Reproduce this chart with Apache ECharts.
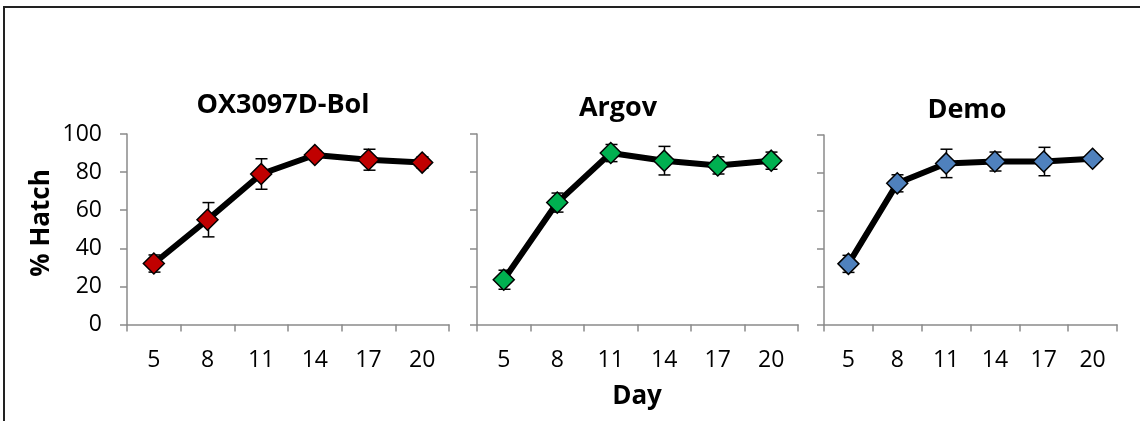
<!DOCTYPE html>
<html>
<head>
<meta charset="utf-8">
<script src="https://cdn.jsdelivr.net/npm/echarts@6/dist/echarts.min.js"></script>
<style>
  html, body { margin: 0; padding: 0; background: #fff; }
  #chart { width: 1140px; height: 421px; }
</style>
</head>
<body>
<div id="chart"></div>
<script>
// Sampling days (x categories) and y tick range
const days = ['5', '8', '11', '14', '17', '20'];
const yTicks = [0, 20, 40, 60, 80, 100];

// Mean % hatch and error (± half-length) per strain
const oxMean = [32, 55, 79, 89, 86.5, 85];
const oxErr = [4.5, 9, 8, 2, 5.5, 3];

const argovMean = [23.5, 64, 90, 86, 83.5, 86];
const argovErr = [5, 5, 4.5, 7.5, 4.5, 4.5];

const demoMean = [32, 74.5, 85, 86, 86, 87.5];
const demoErr = [4.5, 4.5, 7.5, 5, 7.5, 1];

const panelNames = ['OX3097D-Bol', 'Argov', 'Demo'];
const panelColors = ['#C00000', '#00B050', '#4F81BD'];

const FONT = '"Open Sans", "DejaVu Sans", sans-serif';
const AXIS_GREY = '#8a8a8a';

const panels = [
  { name: panelNames[0], mean: oxMean, err: oxErr, color: panelColors[0],
    grid: { left: 127, top: 134, width: 322, height: 190.5 }, showY: true, title: [283, 105] },
  { name: panelNames[1], mean: argovMean, err: argovErr, color: panelColors[1],
    grid: { left: 477, top: 134, width: 321, height: 190.5 }, showY: false, title: [618, 108] },
  { name: panelNames[2], mean: demoMean, err: demoErr, color: panelColors[2],
    grid: { left: 824, top: 135, width: 293, height: 189.5 }, showY: false, title: [967, 110] }
];

const grids = [], xAxes = [], yAxes = [], series = [], graphics = [];

panels.forEach((p, k) => {
  grids.push(Object.assign({ containLabel: false }, p.grid));

  xAxes.push({
    type: 'category',
    gridIndex: k,
    data: days,
    boundaryGap: true,
    axisLine: { show: true, lineStyle: { color: AXIS_GREY, width: 1.5 } },
    axisTick: { show: true, length: 7, lineStyle: { color: AXIS_GREY, width: 1.5 } },
    axisLabel: { color: '#000', fontFamily: FONT, fontSize: 23, margin: 24 },
    splitLine: { show: false }
  });

  yAxes.push({
    type: 'value',
    gridIndex: k,
    min: yTicks[0],
    max: yTicks[yTicks.length - 1],
    interval: yTicks[1] - yTicks[0],
    axisLine: { show: true, lineStyle: { color: AXIS_GREY, width: 1.5 } },
    axisTick: { show: true, length: 7, lineStyle: { color: AXIS_GREY, width: 1.5 } },
    axisLabel: { show: p.showY, color: '#000', fontFamily: FONT, fontSize: 23, margin: 25 },
    splitLine: { show: false }
  });

  // Error bars: vertical whisker with caps
  series.push({
    type: 'custom',
    xAxisIndex: k,
    yAxisIndex: k,
    z: 2,
    silent: true,
    data: p.mean.map((m, i) => [i, m - p.err[i], m + p.err[i]]),
    encode: { x: 0, y: [1, 2] },
    renderItem: function (params, api) {
      const lo = api.coord([api.value(0), api.value(1)]);
      const hi = api.coord([api.value(0), api.value(2)]);
      const x = Math.round(lo[0]) + 0.5;
      const half = 6;
      const style = { stroke: '#000', lineWidth: 1.5, fill: null };
      return {
        type: 'group',
        children: [
          { type: 'line', shape: { x1: x, y1: lo[1], x2: x, y2: hi[1] }, style: style },
          { type: 'line', shape: { x1: x - half, y1: hi[1], x2: x + half, y2: hi[1] }, style: style },
          { type: 'line', shape: { x1: x - half, y1: lo[1], x2: x + half, y2: lo[1] }, style: style }
        ]
      };
    }
  });

  // Mean line with diamond markers
  series.push({
    type: 'line',
    name: p.name,
    xAxisIndex: k,
    yAxisIndex: k,
    z: 3,
    data: p.mean,
    symbol: 'diamond',
    symbolSize: 21,
    showAllSymbol: true,
    lineStyle: { color: '#000', width: 6 },
    itemStyle: { color: p.color, borderColor: '#000', borderWidth: 1.5 },
    emphasis: { disabled: true },
    animation: false
  });

  graphics.push({
    type: 'text',
    x: p.title[0],
    y: p.title[1],
    style: {
      text: p.name,
      font: 'bold 27px ' + FONT,
      fill: '#000',
      textAlign: 'center',
      textVerticalAlign: 'middle'
    }
  });
});

// Shared axis titles
graphics.push({
  type: 'text',
  x: 42,
  y: 223,
  rotation: Math.PI / 2,
  style: {
    text: '% Hatch',
    font: 'bold 26px ' + FONT,
    fill: '#000',
    textAlign: 'center',
    textVerticalAlign: 'middle'
  }
});
graphics.push({
  type: 'text',
  x: 637,
  y: 397,
  style: {
    text: 'Day',
    font: 'bold 26px ' + FONT,
    fill: '#000',
    textAlign: 'center',
    textVerticalAlign: 'middle'
  }
});

// Outer frame
graphics.push({
  type: 'rect',
  shape: { x: 4, y: 7, width: 1300, height: 600 },
  style: { fill: null, stroke: '#222', lineWidth: 2 },
  silent: true
});

const chart = echarts.init(document.getElementById('chart'), null, { renderer: 'canvas' });
chart.setOption({
  animation: false,
  backgroundColor: '#fff',
  grid: grids,
  xAxis: xAxes,
  yAxis: yAxes,
  series: series,
  graphic: graphics
});
</script>
</body>
</html>
